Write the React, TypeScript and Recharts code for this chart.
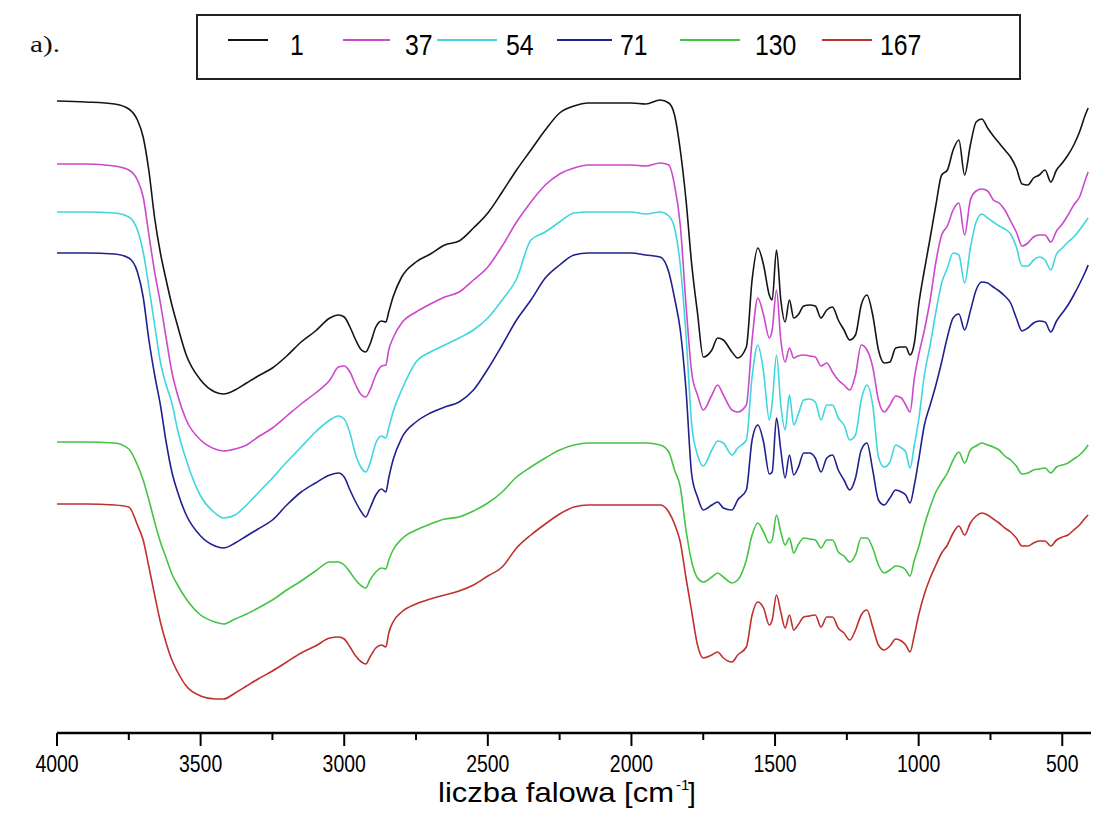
import React from 'react';
import { LineChart, Line, XAxis, YAxis } from 'recharts';

// wavenumber grid [cm-1]
const wavenumbers = [
  4000, 3900, 3800, 3750, 3720, 3700, 3680, 3660, 3640, 3620,
  3600, 3580, 3550, 3500, 3450, 3420, 3380, 3340, 3300, 3250,
  3200, 3150, 3100, 3050, 3020, 3000, 2980, 2960, 2940, 2925,
  2910, 2890, 2870, 2855, 2845, 2830, 2800, 2750, 2700, 2650,
  2600, 2550, 2500, 2450, 2400, 2350, 2300, 2250, 2200, 2150,
  2100, 2050, 2000, 1950, 1900, 1870, 1850, 1830, 1810, 1790,
  1770, 1750, 1720, 1700, 1680, 1650, 1630, 1600, 1580, 1560,
  1540, 1520, 1510, 1495, 1480, 1465, 1450, 1435, 1420, 1400,
  1380, 1360, 1340, 1320, 1300, 1280, 1260, 1240, 1220, 1200,
  1180, 1160, 1140, 1120, 1100, 1080, 1060, 1045, 1030, 1015,
  1000, 980, 960, 940, 920, 900, 880, 860, 840, 820,
  800, 780, 760, 740, 720, 700, 680, 660, 640, 620,
  600, 580, 560, 540, 520, 500, 480, 460, 440, 420,
  410,
];

// transmittance, arbitrary units (curves are stacked)
const t1 = [
  632, 631, 629, 624, 613, 596, 562, 515, 480, 453,
  428, 407, 378, 353, 341, 339, 343, 350, 357, 365,
  377, 391, 402, 415, 418, 416, 406, 393, 383, 381,
  389, 406, 412, 411, 421, 436, 456, 471, 479, 488,
  492, 505, 520, 541, 563, 583, 603, 620, 627, 630,
  630, 630, 630, 629, 633, 630, 618, 583, 533, 468,
  420, 376, 383, 395, 393, 381, 375, 386, 453, 485,
  468, 438, 433, 483, 433, 411, 433, 415, 418, 427,
  428, 427, 415, 423, 426, 413, 403, 393, 398, 428,
  438, 418, 383, 370, 371, 385, 386, 386, 378, 390,
  428, 463, 495, 528, 558, 563, 583, 593, 558, 588,
  611, 614, 605, 597, 590, 583, 576, 565, 549, 548,
  555, 558, 563, 551, 563, 570, 578, 588, 601, 618,
  625,
];

const t37 = [
  569, 569, 567, 563, 553, 536, 498, 461, 430, 395,
  361, 338, 313, 293, 284, 282, 284, 288, 296, 305,
  317, 329, 340, 353, 366, 367, 361, 348, 338, 336,
  343, 358, 367, 368, 383, 395, 410, 421, 429, 436,
  441, 453, 466, 487, 511, 531, 548, 559, 565, 568,
  568, 568, 568, 567, 570, 568, 548, 508, 428, 360,
  338, 323, 338, 348, 338, 323, 321, 328, 393, 435,
  418, 395, 403, 443, 393, 371, 385, 375, 377, 378,
  377, 376, 367, 370, 361, 353, 348, 343, 358, 388,
  383, 366, 333, 321, 328, 337, 335, 328, 321, 355,
  378, 403, 433, 471, 498, 507, 523, 530, 498, 533,
  542, 544, 542, 533, 530, 523, 512, 501, 487, 490,
  496, 498, 498, 491, 502, 509, 518, 528, 536, 553,
  561,
];

const t54 = [
  521, 521, 520, 516, 503, 481, 446, 408, 371, 348,
  330, 303, 273, 237, 220, 215, 218, 228, 240, 255,
  271, 286, 301, 313, 317, 314, 300, 278, 265, 261,
  270, 290, 297, 295, 305, 321, 343, 371, 381, 388,
  395, 403, 415, 433, 454, 493, 501, 511, 520, 521,
  521, 521, 521, 519, 521, 517, 505, 468, 398, 308,
  278, 267, 283, 292, 290, 278, 285, 293, 356, 388,
  361, 313, 330, 378, 328, 303, 338, 308, 318, 333,
  334, 331, 313, 328, 328, 315, 308, 293, 298, 333,
  348, 328, 276, 266, 271, 288, 285, 281, 265, 288,
  313, 358, 388, 421, 450, 465, 480, 478, 450, 485,
  511, 519, 515, 511, 507, 504, 499, 486, 467, 467,
  473, 476, 473, 463, 479, 485, 491, 496, 503, 511,
  515,
];

const t71 = [
  480, 480, 479, 475, 461, 436, 393, 358, 328, 291,
  261, 241, 218, 197, 187, 185, 190, 197, 204, 213,
  228, 241, 250, 258, 260, 256, 243, 231, 221, 216,
  225, 238, 244, 241, 255, 273, 295, 311, 320, 326,
  331, 343, 364, 388, 413, 433, 455, 468, 478, 480,
  480, 480, 480, 478, 476, 461, 435, 403, 343, 258,
  236, 223, 228, 231, 225, 223, 233, 243, 293, 308,
  291, 259, 261, 315, 283, 255, 278, 258, 265, 280,
  280, 275, 261, 275, 278, 263, 253, 243, 255, 283,
  290, 263, 233, 228, 235, 243, 241, 238, 230, 248,
  273, 308, 328, 348, 371, 396, 415, 419, 403, 422,
  443, 451, 450, 446, 442, 437, 430, 415, 402, 405,
  410, 412, 411, 401, 412, 420, 428, 438, 449, 461,
  468,
];

const t130 = [
  291, 291, 290, 284, 268, 253, 233, 211, 191, 175,
  159, 148, 134, 118, 111, 109, 114, 119, 125, 133,
  143, 152, 162, 171, 171, 168, 161, 153, 147, 145,
  153, 161, 165, 164, 173, 183, 194, 203, 209, 214,
  216, 222, 230, 241, 256, 266, 275, 283, 288, 290,
  290, 290, 290, 290, 288, 281, 263, 246, 203, 171,
  155, 151, 156, 160, 156, 150, 153, 173, 198, 210,
  201, 190, 193, 218, 201, 188, 195, 180, 188, 195,
  194, 193, 185, 193, 193, 181, 177, 171, 178, 195,
  195, 185, 168, 160, 163, 167, 166, 163, 157, 173,
  186, 208, 226, 241, 251, 260, 273, 281, 270, 283,
  287, 290, 288, 286, 283, 277, 273, 267, 259, 260,
  263, 264, 265, 260, 266, 268, 270, 274, 278, 284,
  288,
];

const t167 = [
  229, 229, 228, 226, 208, 193, 166, 138, 111, 90,
  73, 61, 47, 37, 34, 34, 40, 47, 54, 62,
  71, 80, 87, 95, 96, 94, 86, 77, 71, 69,
  76, 85, 88, 86, 100, 111, 121, 129, 134, 138,
  142, 148, 157, 166, 185, 198, 209, 219, 226, 228,
  228, 228, 228, 228, 228, 221, 209, 191, 155, 121,
  88, 75, 78, 81, 75, 71, 78, 86, 118, 131,
  125, 108, 113, 138, 121, 105, 118, 103, 108, 116,
  117, 118, 106, 116, 116, 105, 100, 93, 103, 118,
  123, 106, 88, 83, 87, 94, 92, 88, 81, 98,
  118, 139, 155, 168, 180, 188, 200, 207, 198, 210,
  217, 220, 218, 214, 210, 205, 201, 195, 187, 187,
  190, 192, 192, 187, 193, 196, 198, 203, 208, 215,
  218,
];

const majorTicks = [4000, 3500, 3000, 2500, 2000, 1500, 1000, 500];
const minorTicks = [3750, 3250, 2750, 2250, 1750, 1250, 750];

const series = [
  { key: 's1', name: '1', color: '#151515', values: t1 },
  { key: 's37', name: '37', color: '#cc48cc', values: t37 },
  { key: 's54', name: '54', color: '#40d6de', values: t54 },
  { key: 's71', name: '71', color: '#20208f', values: t71 },
  { key: 's130', name: '130', color: '#44c444', values: t130 },
  { key: 's167', name: '167', color: '#c0302f', values: t167 },
];

const data = wavenumbers.map((w, i) => {
  const row: Record<string, number> = { w };
  series.forEach((s) => {
    row[s.key] = s.values[i];
  });
  return row;
});

const sans = "'Liberation Sans', Arial, sans-serif";

function AxisTick(props: any) {
  const { x, y, payload } = props;
  const major = payload.value % 500 === 0;
  const label = String(payload.value);
  return (
    <g>
      <line x1={x} y1={y} x2={x} y2={y + (major ? 13 : 7)} stroke="#000" strokeWidth={2} />
      {major && (
        <text
          x={x}
          y={y + 39}
          textAnchor="middle"
          fontSize={24}
          fontFamily={sans}
          textLength={label.length * 10.8}
          lengthAdjust="spacingAndGlyphs"
          fill="#000"
        >
          {label}
        </text>
      )}
    </g>
  );
}

// legend positions: line start/end and text start, in page pixels
const legendLayout = [
  [228, 268, 290],
  [343, 390, 405],
  [437, 497, 506],
  [557, 612, 620],
  [680, 740, 755],
  [822, 872, 880],
];

export default function App() {
  return (
    <div style={{ position: 'absolute', left: 0, top: 0, width: 1099, height: 816, background: '#fff' }}>
      <LineChart
        width={1099}
        height={816}
        data={data}
        margin={{ top: 93, right: 8, bottom: 23, left: 57 }}
      >
        <XAxis
          dataKey="w"
          type="number"
          domain={[400, 4000]}
          reversed
          allowDataOverflow
          ticks={[...majorTicks, ...minorTicks]}
          interval={0}
          tick={<AxisTick />}
          tickLine={false}
          tickSize={0}
          tickMargin={0}
          height={60}
          axisLine={{ stroke: '#000', strokeWidth: 2.5 }}
        />
        <YAxis hide type="number" domain={[0, 640]} allowDataOverflow />
        {series.map((s) => (
          <Line
            key={s.key}
            dataKey={s.key}
            name={s.name}
            stroke={s.color}
            strokeWidth={1.6}
            dot={false}
            type="monotone"
            isAnimationActive={false}
          />
        ))}
      </LineChart>

      <svg width={1099} height={816} style={{ position: 'absolute', left: 0, top: 0, pointerEvents: 'none' }}>
        <text
          x={438}
          y={802}
          fontSize={28}
          fontFamily={sans}
          textLength={236}
          lengthAdjust="spacingAndGlyphs"
          fill="#000"
        >
          liczba falowa [cm
        </text>
        <text x={676} y={790} fontSize={15} fontFamily={sans} fill="#000">
          -1
        </text>
        <text x={688} y={802} fontSize={28} fontFamily={sans} fill="#000">
          ]
        </text>
        <text
          x={30}
          y={52}
          fontSize={24}
          fontFamily="'Liberation Serif', serif"
          textLength={30}
          lengthAdjust="spacingAndGlyphs"
          fill="#111"
        >
          a).
        </text>
        <rect x={197} y={15} width={823} height={64} fill="none" stroke="#222" strokeWidth={2} />
        {series.map((s, i) => {
          const [x1, x2, tx] = legendLayout[i];
          return (
            <g key={s.key}>
              <line x1={x1} y1={40} x2={x2} y2={40} stroke={s.color} strokeWidth={2} />
              <text
                x={tx}
                y={55}
                fontSize={30}
                fontFamily={sans}
                textLength={s.name.length * 13.8}
                lengthAdjust="spacingAndGlyphs"
                fill="#000"
              >
                {s.name}
              </text>
            </g>
          );
        })}
      </svg>
    </div>
  );
}
